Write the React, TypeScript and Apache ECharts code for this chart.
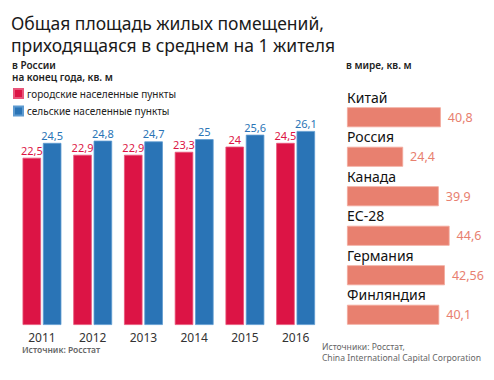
import React, { useEffect, useRef } from "react";
import * as echarts from "echarts";

const years = ["2011", "2012", "2013", "2014", "2015", "2016"];
const urban = [22.5, 22.9, 22.9, 23.3, 24, 24.5];
const rural = [24.5, 24.8, 24.7, 25, 25.6, 26.1];
const countries = ["Китай", "Россия", "Канада", "ЕС-28", "Германия", "Финляндия"];
const worldValues = [40.8, 24.4, 39.9, 44.6, 42.56, 40.1];

const FONT = "'Noto Sans', 'Open Sans', sans-serif";
const fmt = (v: number) => String(v).replace(".", ",");

export default function App() {
  const ref = useRef<HTMLDivElement>(null);
  useEffect(() => {
    document.body.style.margin = "0";
    if (!ref.current) return;
    const chart = echarts.init(ref.current, null, { renderer: "svg" });
    chart.setOption({
      animation: false,
      backgroundColor: "#ffffff",
      textStyle: { fontFamily: FONT },
      title: [
        {
          text: "Общая площадь жилых помещений,\nприходящаяся в среднем на 1 жителя",
          left: 11,
          top: 12,
          padding: 0,
          textStyle: { fontFamily: FONT, fontSize: 17.5, lineHeight: 22, fontWeight: "normal", color: "#1a1a1a" },
        },
        {
          text: "в России\nна конец года, кв. м",
          left: 12,
          top: 58.5,
          padding: 0,
          textStyle: { fontFamily: FONT, fontSize: 10, lineHeight: 12.5, fontWeight: 600, color: "#222" },
        },
        {
          text: "в мире, кв. м",
          left: 346,
          top: 60,
          padding: 0,
          textStyle: { fontFamily: FONT, fontSize: 10, fontWeight: 600, color: "#222" },
        },
        {
          text: "Источник: Росстат",
          left: 22,
          top: 345,
          padding: 0,
          textStyle: { fontFamily: FONT, fontSize: 8.5, lineHeight: 9, fontWeight: 600, color: "#666" },
        },
        {
          text: "Источники: Росстат,\nChina International Capital Corporation",
          right: 13,
          top: 341,
          padding: 0,
          textStyle: { fontFamily: FONT, fontSize: 8.6, lineHeight: 11, fontWeight: "normal", color: "#666", align: "right" },
        },
      ],
      legend: {
        data: ["городские населенные пункты", "сельские населенные пункты"],
        orient: "vertical",
        left: 13,
        top: 88,
        padding: 0,
        itemWidth: 9,
        itemHeight: 9,
        itemGap: 6.5,
        icon: "rect",
        textStyle: { fontFamily: FONT, fontSize: 10, color: "#222", padding: [0, 0, 0, -1] },
      },
      grid: [
        { left: 16.6, width: 304.4, top: 102, height: 223 },
        { left: 347, width: 115, top: 97.5, height: 237 },
      ],
      xAxis: [
        {
          gridIndex: 0,
          type: "category",
          data: years,
          axisLine: { show: false },
          axisTick: { show: false },
          axisLabel: { fontFamily: FONT, fontSize: 12, lineHeight: 12, color: "#333", margin: 6 },
        },
        {
          gridIndex: 1,
          type: "value",
          min: 0,
          max: 50,
          show: false,
        },
      ],
      yAxis: [
        {
          gridIndex: 0,
          type: "value",
          min: 0,
          max: 30,
          show: false,
          splitLine: { show: false },
        },
        {
          gridIndex: 1,
          type: "category",
          data: countries,
          inverse: true,
          show: false,
        },
      ],
      series: [
        {
          name: "городские населенные пункты",
          type: "bar",
          xAxisIndex: 0,
          yAxisIndex: 0,
          data: urban,
          barWidth: 18.5,
          barGap: "10%",
          itemStyle: { color: "#dc1445", borderColor: "#e8557a", borderWidth: 0.8 },
          label: {
            show: true,
            position: "top",
            distance: 2,
            fontFamily: FONT,
            fontSize: 11,
            color: "#dc1445",
            formatter: (p: any) => fmt(p.value),
          },
        },
        {
          name: "сельские населенные пункты",
          type: "bar",
          xAxisIndex: 0,
          yAxisIndex: 0,
          data: rural,
          barWidth: 18.5,
          barGap: "10%",
          itemStyle: { color: "#2a74b6", borderColor: "#5d9ad0", borderWidth: 0.8 },
          label: {
            show: true,
            position: "top",
            distance: 2,
            fontFamily: FONT,
            fontSize: 11,
            color: "#2a74b6",
            formatter: (p: any) => fmt(p.value),
          },
        },
        {
          name: "world",
          type: "bar",
          xAxisIndex: 1,
          yAxisIndex: 1,
          data: worldValues,
          barWidth: 20,
          itemStyle: { color: "#e8806f", borderColor: "#f2a89c", borderWidth: 0.8 },
          label: {
            show: true,
            position: "right",
            distance: 7,
            fontFamily: FONT,
            fontSize: 12.5,
            color: "#e8806f",
            formatter: (p: any) => fmt(p.value),
          },
        },
        {
          name: "worldNames",
          type: "bar",
          xAxisIndex: 1,
          yAxisIndex: 1,
          data: worldValues,
          barWidth: 20,
          barGap: "-100%",
          silent: true,
          itemStyle: { color: "rgba(0,0,0,0)" },
          label: {
            show: true,
            position: [0, -10],
            align: "left",
            verticalAlign: "middle",
            fontFamily: FONT,
            fontSize: 14,
            color: "#111",
            formatter: (p: any) => p.name,
          },
        },
      ],
    });
    return () => chart.dispose();
  }, []);
  return <div ref={ref} style={{ width: 494, height: 380 }} />;
}
